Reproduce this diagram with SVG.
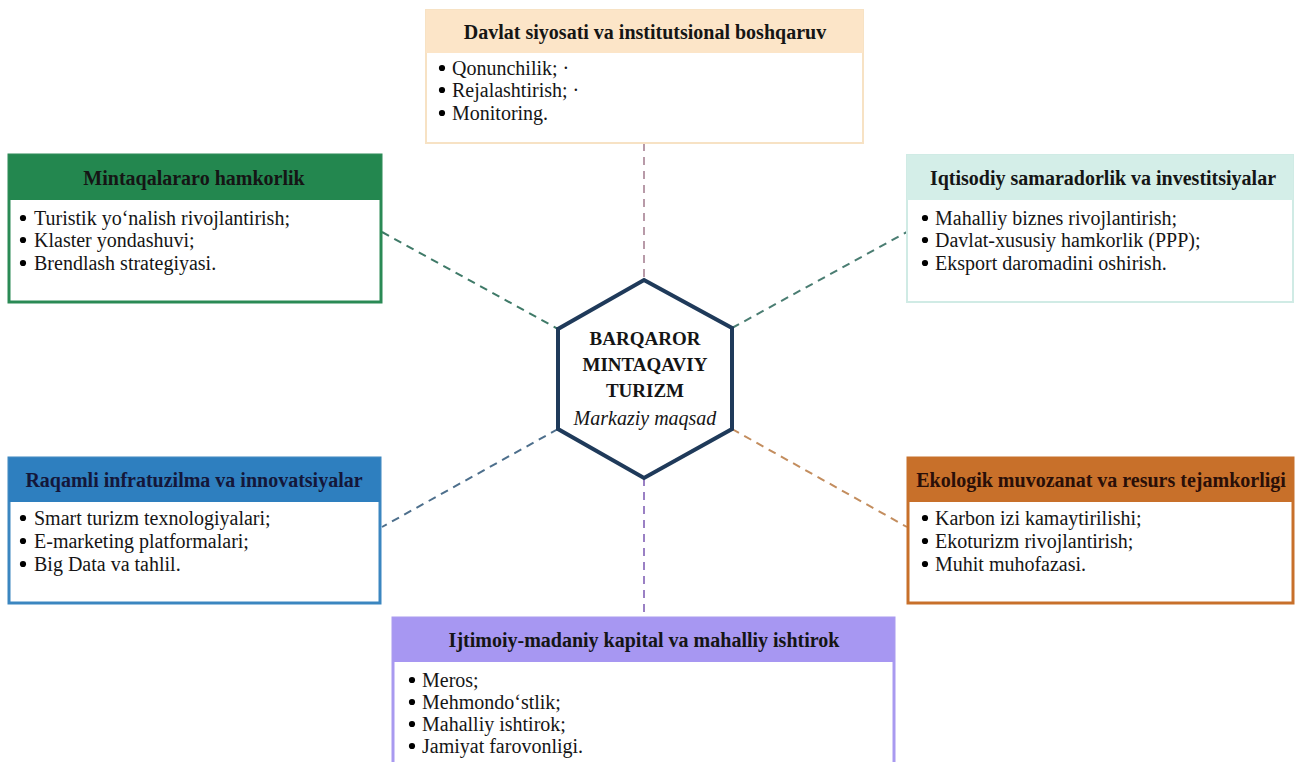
<svg xmlns="http://www.w3.org/2000/svg" width="1295" height="762" viewBox="0 0 1295 762">
<style>
.hdr{font-family:"Liberation Serif","Times New Roman",serif;font-weight:bold;font-size:20px;fill:#151515;text-anchor:middle}
.itm{font-family:"Liberation Serif","Times New Roman",serif;font-size:20px;fill:#151515}
.ctr{font-family:"Liberation Serif","Times New Roman",serif;font-weight:bold;font-size:19px;fill:#151515;text-anchor:middle}
.cti{font-family:"Liberation Serif","Times New Roman",serif;font-style:italic;font-size:20px;fill:#151515;text-anchor:middle}
.dash{fill:none;stroke-width:2;stroke-dasharray:8 6}
.dot{fill:#000000}
</style>
<defs><circle id="b" r="3.1" class="dot"/></defs>
<rect width="1295" height="762" fill="#ffffff"/>
<g id="connectors">
<line class="dash" x1="644" y1="143" x2="644" y2="280" stroke="#b89aa8"/>
<line class="dash" x1="382" y1="232" x2="558" y2="329" stroke="#3f7a68"/>
<line class="dash" x1="732" y1="328" x2="907" y2="232" stroke="#4a7d72"/>
<line class="dash" x1="558" y1="429" x2="382" y2="527" stroke="#4d6f8c"/>
<line class="dash" x1="732" y1="429" x2="907" y2="527" stroke="#c38d5e"/>
<line class="dash" x1="644" y1="478" x2="644" y2="618" stroke="#9a80c4"/>
</g>
<g id="center">
<polygon points="644,280 732,328 732,429 644,478 558,429 558,329" fill="#ffffff" stroke="#1f3a5a" stroke-width="4" stroke-linejoin="miter"/>
<text class="ctr" x="645" y="345">BARQAROR</text>
<text class="ctr" x="645" y="371">MINTAQAVIY</text>
<text class="ctr" x="645" y="397">TURIZM</text>
<text class="cti" x="645" y="425">Markaziy maqsad</text>
</g>
<g id="davlat">
<rect x="426" y="10" width="437" height="133" fill="#ffffff" stroke="#f7e2c4" stroke-width="2"/>
<rect x="426" y="10" width="437" height="43" fill="#fce5c8"/>
<text class="hdr" x="645" y="39">Davlat siyosati va institutsional boshqaruv</text>
<use href="#b" x="442" y="68"/><use href="#b" x="442" y="90"/><use href="#b" x="442" y="113"/>
<text class="itm" x="452" y="75">Qonunchilik; ·</text>
<text class="itm" x="452" y="97">Rejalashtirish; ·</text>
<text class="itm" x="452" y="120">Monitoring.</text>
</g>
<g id="mintaqalararo">
<rect x="9" y="155" width="372" height="147" fill="#ffffff" stroke="#2a8a55" stroke-width="3"/>
<rect x="9" y="155" width="372" height="45" fill="#23874f"/>
<text class="hdr" x="194" y="185">Mintaqalararo hamkorlik</text>
<use href="#b" x="23" y="218"/><use href="#b" x="23" y="240"/><use href="#b" x="23" y="263"/>
<text class="itm" x="34" y="225">Turistik yo‘nalish rivojlantirish;</text>
<text class="itm" x="34" y="247">Klaster yondashuvi;</text>
<text class="itm" x="34" y="270">Brendlash strategiyasi.</text>
</g>
<g id="iqtisodiy">
<rect x="907" y="155" width="386" height="147" fill="#ffffff" stroke="#d0ebe5" stroke-width="2"/>
<rect x="907" y="155" width="386" height="45" fill="#d4eee8"/>
<text class="hdr" x="1103" y="185">Iqtisodiy samaradorlik va investitsiyalar</text>
<use href="#b" x="925" y="218"/><use href="#b" x="925" y="240"/><use href="#b" x="925" y="263"/>
<text class="itm" x="935" y="225">Mahalliy biznes rivojlantirish;</text>
<text class="itm" x="935" y="247">Davlat-xususiy hamkorlik (PPP);</text>
<text class="itm" x="935" y="270">Eksport daromadini oshirish.</text>
</g>
<g id="raqamli">
<rect x="9" y="458" width="371" height="145" fill="#ffffff" stroke="#3b86c0" stroke-width="3"/>
<rect x="9" y="458" width="371" height="44" fill="#2e7fbf"/>
<text class="hdr" x="194" y="487" style="fill:#14173a">Raqamli infratuzilma va innovatsiyalar</text>
<use href="#b" x="23" y="518"/><use href="#b" x="23" y="541"/><use href="#b" x="23" y="564"/>
<text class="itm" x="34" y="525">Smart turizm texnologiyalari;</text>
<text class="itm" x="34" y="548">E-marketing platformalari;</text>
<text class="itm" x="34" y="571">Big Data va tahlil.</text>
</g>
<g id="ekologik">
<rect x="908" y="458" width="385" height="145" fill="#ffffff" stroke="#c8702a" stroke-width="3"/>
<rect x="908" y="458" width="385" height="44" fill="#c8702a"/>
<text class="hdr" x="1101" y="487" style="fill:#2a0f08">Ekologik muvozanat va resurs tejamkorligi</text>
<use href="#b" x="925" y="518"/><use href="#b" x="925" y="541"/><use href="#b" x="925" y="564"/>
<text class="itm" x="935" y="525">Karbon izi kamaytirilishi;</text>
<text class="itm" x="935" y="548">Ekoturizm rivojlantirish;</text>
<text class="itm" x="935" y="571">Muhit muhofazasi.</text>
</g>
<g id="ijtimoiy">
<rect x="393" y="618" width="501" height="160" fill="#ffffff" stroke="#a99af0" stroke-width="3"/>
<rect x="393" y="618" width="501" height="44" fill="#a797f2"/>
<text class="hdr" x="644" y="647">Ijtimoiy-madaniy kapital va mahalliy ishtirok</text>
<use href="#b" x="412" y="680"/><use href="#b" x="412" y="702"/><use href="#b" x="412" y="724"/><use href="#b" x="412" y="746"/>
<text class="itm" x="422" y="687">Meros;</text>
<text class="itm" x="422" y="709">Mehmondo‘stlik;</text>
<text class="itm" x="422" y="731">Mahalliy ishtirok;</text>
<text class="itm" x="422" y="753">Jamiyat farovonligi.</text>
</g>
</svg>
